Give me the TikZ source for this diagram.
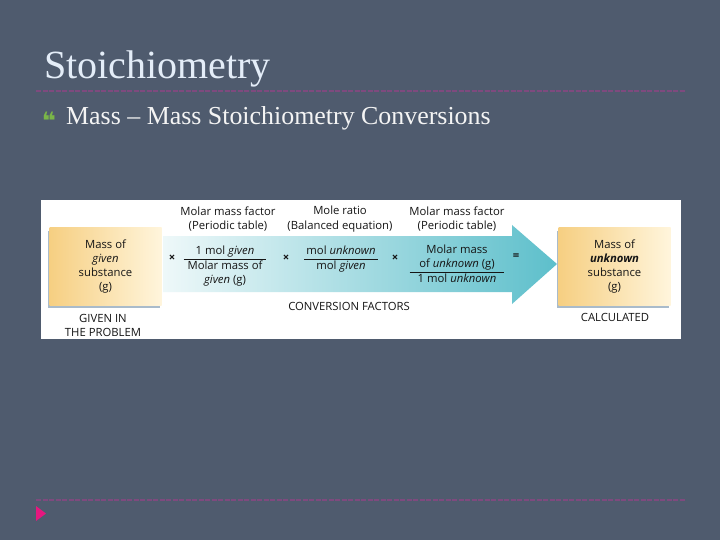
\documentclass[tikz,border=0pt]{standalone}
\usepackage{fontspec}
\setmainfont{Liberation Serif}
\newfontfamily\figfont{Open Sans}
\newfontfamily\symfont{DejaVu Sans}
\usetikzlibrary{shadows}

\definecolor{slide}{HTML}{4F5B6E}
\definecolor{titleink}{HTML}{E4EDF8}
\definecolor{bodyink}{HTML}{F4F4F4}
\definecolor{ruleink}{HTML}{7E4A7E}
\definecolor{markpink}{HTML}{E6177F}
\definecolor{markgreen}{HTML}{7AB648}
\definecolor{figink}{HTML}{151515}
\definecolor{boxwarm}{HTML}{F6CF82}
\definecolor{boxpale}{HTML}{FFF5DC}
\definecolor{boxshade}{HTML}{A9BBCB}
\definecolor{arrowpale}{HTML}{EEF8F9}
\definecolor{arrowmid}{HTML}{C2E6EA}
\definecolor{arrowteal}{HTML}{5DBFCB}

\begin{document}
\begin{tikzpicture}[x=1pt,y=-1pt,
    every node/.style={inner sep=0pt},
    figtext/.style={font=\figfont\fontsize{11.3}{14.3}\selectfont, text=figink, align=center},
    massbox/.style={figtext, minimum width=112pt, minimum height=77pt,
        left color=boxwarm, right color=boxpale,
        drop shadow={shadow xshift=-2pt, shadow yshift=-3pt, fill=boxshade, opacity=1}},
    dotline/.style={ruleink, line width=1.6pt, dash pattern=on 5pt off 1.5pt}]

    % slide
    \fill[slide] (0,0) rectangle (720,540);
    \node[anchor=base west, font=\fontsize{40}{40}\selectfont, text=titleink] (title) at (44,79) {Stoichiometry};
    \draw[dotline] (36,91) -- (686,91);
    \node[font=\symfont\bfseries\fontsize{24}{24}\selectfont, text=markgreen] (bullet) at (49,121) {❝};
    \node[anchor=base west, font=\fontsize{25.9}{26}\selectfont, text=bodyink] (subtitle) at (66,125) {Mass -- Mass Stoichiometry Conversions};
    \draw[dotline] (36,500) -- (686,500);
    \fill[markpink] (36,506) -- (46,513.5) -- (36,521) -- cycle;

    % figure panel
    \fill[white] (41,200) rectangle (681,339);
    \shade[left color=arrowpale, middle color=arrowmid, right color=arrowteal]
        (163,236) -- (512,236) -- (512,225) -- (557,264) -- (512,304) -- (512,292) -- (163,292) -- cycle;

    \node[massbox] (given) at (105.5,266.5) {Mass of\\ \textit{given}\\ substance\\ (g)};
    \node[massbox] (calc) at (614.5,266.5) {Mass of\\ \textbf{\textit{unknown}}\\ substance\\ (g)};

    \node[figtext] (head1) at (228,219) {Molar mass factor\\ (Periodic table)};
    \node[figtext] (head2) at (340,219) {Mole ratio\\ (Balanced equation)};
    \node[figtext] (head3) at (457,219) {Molar mass factor\\ (Periodic table)};

    \node[figtext] (times1) at (172,258) {\textbf{×}};
    \node[figtext] (frac1) at (225,266) {\begin{tabular}{@{\hspace{4pt}}c@{\hspace{4pt}}}
        1 mol \textit{given}\\ \hline
        Molar mass of\\
        \textit{given} (g)
    \end{tabular}};
    \node[figtext] (times2) at (286,258) {\textbf{×}};
    \node[figtext] (frac2) at (341,259) {\begin{tabular}{@{\hspace{2pt}}c@{\hspace{2pt}}}
        mol \textit{unknown}\\ \hline
        mol \textit{given}
    \end{tabular}};
    \node[figtext] (times3) at (395,258) {\textbf{×}};
    \node[figtext] (frac3) at (457,265) {\begin{tabular}{@{\hspace{8pt}}c@{\hspace{8pt}}}
        Molar mass\\
        of \textit{unknown} (g)\\ \hline
        1 mol \textit{unknown}
    \end{tabular}};
    \node[figtext] (equals) at (516,257) {\textbf{=}};

    \node[figtext] (conv) at (349,306) {CONVERSION FACTORS};
    \node[figtext] (givenlabel) at (103,325.5) {GIVEN IN\\ THE PROBLEM};
    \node[figtext] (calclabel) at (615,317) {CALCULATED};
\end{tikzpicture}
\end{document}
